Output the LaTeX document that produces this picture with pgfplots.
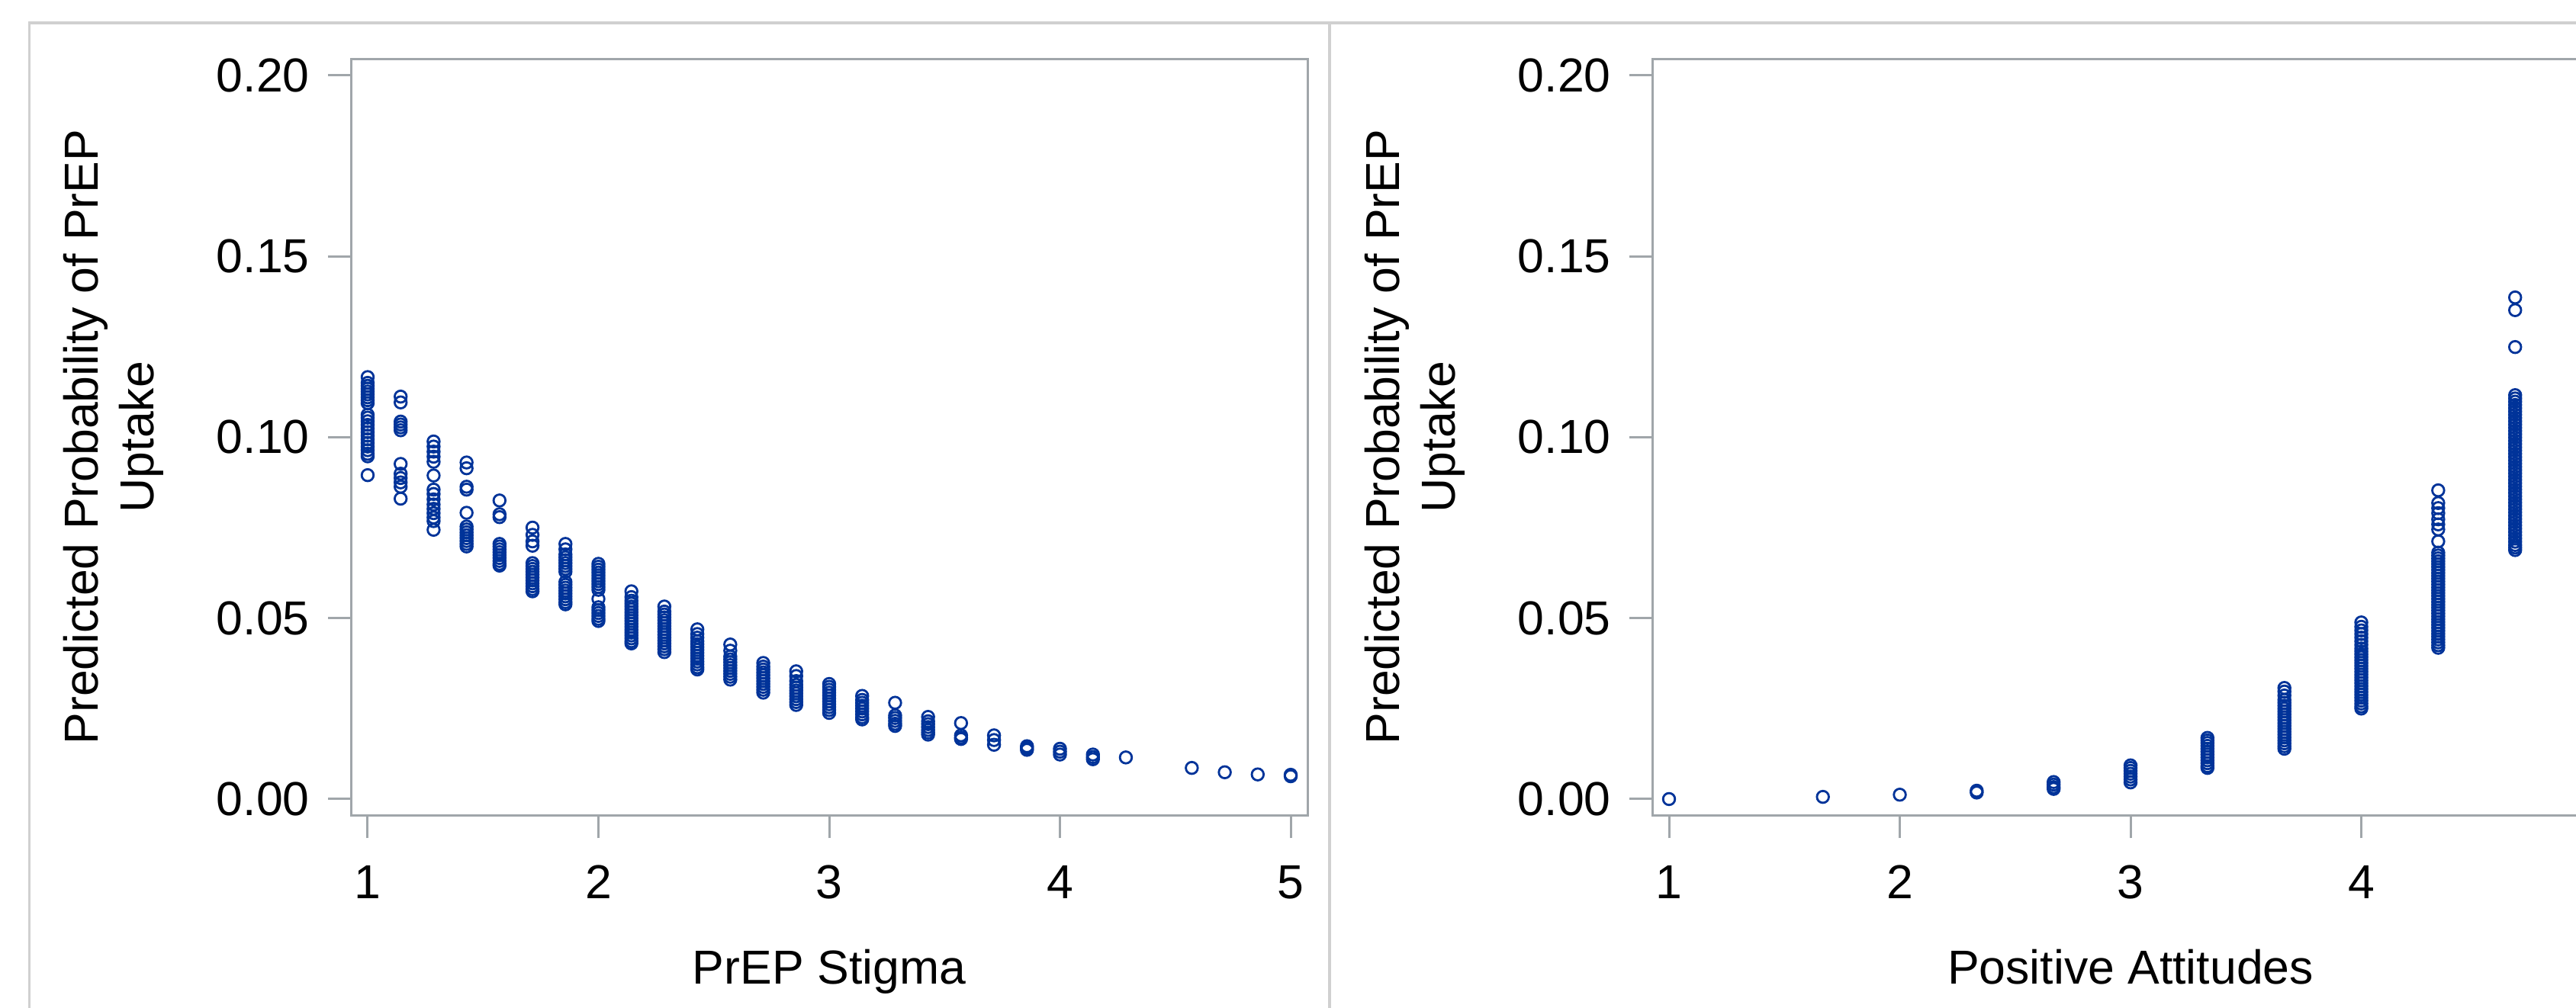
\documentclass[border=0pt]{standalone}
\usepackage{fontspec}
\setmainfont{Liberation Sans}
\usepackage{pgfplots}
\pgfplotsset{compat=1.18}
\definecolor{sasblue}{RGB}{0,51,153}
\definecolor{axgray}{RGB}{160,166,170}
\definecolor{frgray}{RGB}{208,208,208}

\pgfplotsset{
  panel/.style={
    scale only axis, width=62.7mm, height=49.615mm,
    xmin=0.9273, xmax=5.0727, ymin=-0.0045, ymax=0.20457,
    xtick={1,2,3,4,5}, xticklabels={1,2,3,4,5},
    ytick={0,0.05,0.1,0.15,0.2}, yticklabels={0.00,0.05,0.10,0.15,0.20},
    tick align=outside, major tick length=1.5mm,
    xtick pos=left, ytick pos=left,
    axis line style={draw=axgray, line width=0.15mm},
    tick style={draw=axgray, line width=0.15mm},
    tick label style={font={\fontsize{8.9}{10.4}\selectfont}, text=black, inner sep=0pt},
    xticklabel style={anchor=base, yshift=-3.935mm},
    yticklabel style={anchor=east, xshift=-1.15mm},
    every axis x label/.style={at={(axis description cs:0.5,0)}, anchor=base, yshift=-11.035mm,
      inner sep=0pt, font={\fontsize{8.9}{10.4}\selectfont}},
    every axis y label/.style={at={(axis description cs:-0.1946,0.5)}, rotate=90, anchor=south,
      inner sep=0pt, align=center, font={\fontsize{8.9}{10.4}\selectfont}},
    ylabel={Predicted Probability of PrEP\\Uptake},
  },
  pts/.style={only marks, mark=o, mark size=0.39mm, color=sasblue, mark options={line width=0.14mm}},
}

\begin{document}
\begin{tikzpicture}
\path[use as bounding box] (0,0) rectangle (168.85mm,66.05mm);
\clip (0,0) rectangle (168.85mm,66.05mm);
\fill[white] (0,0) rectangle (168.85mm,66.05mm);

% frames around the two graphs
\draw[frgray, line width=0.175mm] (1.93mm,-1mm) -- (1.93mm,64.55mm) -- (172mm,64.55mm);
\draw[frgray, line width=0.175mm] (87.15mm,-1mm) -- (87.15mm,64.55mm);

% PrEP stigma
\begin{axis}[panel, at={(23mm,12.585mm)}, anchor=south west, xlabel={PrEP Stigma}]
\addplot[pts] coordinates {
(1,0.1166)(1,0.1150)(1,0.1142)(1,0.1134)(1,0.1126)(1,0.1118)(1,0.1110)(1,0.1102)(1,0.1094)(1,0.1062)
(1,0.1054)(1,0.1044)(1,0.1034)(1,0.1024)(1,0.1014)(1,0.1004)(1,0.0994)(1,0.0984)(1,0.0974)(1,0.0964)(1,0.0954)(1,0.0947)(1,0.0895)
(1.1429,0.1112)(1.1429,0.1096)(1.1429,0.1043)(1.1429,0.1035)(1.1429,0.1027)(1.1429,0.1019)
(1.1429,0.0926)(1.1429,0.0899)(1.1429,0.0887)(1.1429,0.0875)(1.1429,0.0863)(1.1429,0.0830)
(1.2857,0.0988)(1.2857,0.0974)(1.2857,0.0960)(1.2857,0.0946)(1.2857,0.0932)(1.2857,0.0894)(1.2857,0.0855)
(1.2857,0.0843)(1.2857,0.0828)(1.2857,0.0814)(1.2857,0.0802)(1.2857,0.0790)(1.2857,0.0778)(1.2857,0.0768)(1.2857,0.0744)
(1.4286,0.0930)(1.4286,0.0914)(1.4286,0.0863)(1.4286,0.0855)(1.4286,0.0791)(1.4286,0.0753)(1.4286,0.0745)
(1.4286,0.0737)(1.4286,0.0729)(1.4286,0.0721)(1.4286,0.0713)(1.4286,0.0705)(1.4286,0.0698)
(1.5714,0.0825)(1.5714,0.0787)(1.5714,0.0779)(1.5714,0.0705)(1.5714,0.0698)(1.5714,0.0690)(1.5714,0.0682)
(1.5714,0.0674)(1.5714,0.0666)(1.5714,0.0658)(1.5714,0.0650)(1.5714,0.0645)
(1.7143,0.0750)(1.7143,0.0730)(1.7143,0.0712)(1.7143,0.0700)(1.7143,0.0652)(1.7143,0.0644)(1.7143,0.0636)(1.7143,0.0628)
(1.7143,0.0620)(1.7143,0.0612)(1.7143,0.0604)(1.7143,0.0596)(1.7143,0.0588)(1.7143,0.0580)(1.7143,0.0574)
(1.8571,0.0705)(1.8571,0.0690)(1.8571,0.0676)(1.8571,0.0668)(1.8571,0.0660)(1.8571,0.0652)(1.8571,0.0644)(1.8571,0.0636)(1.8571,0.0628)
(1.8571,0.0600)(1.8571,0.0592)(1.8571,0.0584)(1.8571,0.0576)(1.8571,0.0568)(1.8571,0.0560)(1.8571,0.0552)(1.8571,0.0544)(1.8571,0.0538)
(2,0.0650)(2,0.0642)(2,0.0634)(2,0.0626)(2,0.0618)(2,0.0610)(2,0.0602)(2,0.0594)(2,0.0586)(2,0.0578)
(2,0.0553)(2,0.0530)(2,0.0522)(2,0.0514)(2,0.0506)(2,0.0498)(2,0.0492)
(2.1429,0.0574)(2.1429,0.0558)(2.1429,0.0548)(2.1429,0.0540)(2.1429,0.0532)(2.1429,0.0524)(2.1429,0.0516)(2.1429,0.0508)(2.1429,0.0500)
(2.1429,0.0492)(2.1429,0.0484)(2.1429,0.0476)(2.1429,0.0468)(2.1429,0.0460)(2.1429,0.0452)(2.1429,0.0444)(2.1429,0.0436)(2.1429,0.0430)
(2.2857,0.0532)(2.2857,0.0518)(2.2857,0.0510)(2.2857,0.0502)(2.2857,0.0494)(2.2857,0.0486)(2.2857,0.0478)(2.2857,0.0470)
(2.2857,0.0462)(2.2857,0.0454)(2.2857,0.0446)(2.2857,0.0438)(2.2857,0.0430)(2.2857,0.0422)(2.2857,0.0414)(2.2857,0.0406)
(2.4286,0.0469)(2.4286,0.0456)(2.4286,0.0446)(2.4286,0.0436)(2.4286,0.0428)(2.4286,0.0420)(2.4286,0.0412)
(2.4286,0.0404)(2.4286,0.0396)(2.4286,0.0388)(2.4286,0.0380)(2.4286,0.0372)(2.4286,0.0364)(2.4286,0.0358)
(2.5714,0.0427)(2.5714,0.0410)(2.5714,0.0394)(2.5714,0.0386)(2.5714,0.0378)(2.5714,0.0370)(2.5714,0.0362)
(2.5714,0.0354)(2.5714,0.0346)(2.5714,0.0338)(2.5714,0.0330)
(2.7143,0.0376)(2.7143,0.0366)(2.7143,0.0358)(2.7143,0.0350)(2.7143,0.0342)(2.7143,0.0334)(2.7143,0.0326)
(2.7143,0.0318)(2.7143,0.0310)(2.7143,0.0302)(2.7143,0.0294)
(2.8571,0.0353)(2.8571,0.0340)(2.8571,0.0326)(2.8571,0.0316)(2.8571,0.0308)(2.8571,0.0300)(2.8571,0.0292)
(2.8571,0.0284)(2.8571,0.0276)(2.8571,0.0268)(2.8571,0.0260)
(3,0.0318)(3,0.0310)(3,0.0302)(3,0.0294)(3,0.0286)(3,0.0278)(3,0.0270)(3,0.0262)(3,0.0254)(3,0.0246)(3,0.0238)
(3.1429,0.0285)(3.1429,0.0274)(3.1429,0.0266)(3.1429,0.0258)(3.1429,0.0250)(3.1429,0.0242)(3.1429,0.0234)(3.1429,0.0226)(3.1429,0.0220)
(3.2857,0.0266)(3.2857,0.0231)(3.2857,0.0224)(3.2857,0.0216)(3.2857,0.0208)(3.2857,0.0202)
(3.4286,0.0227)(3.4286,0.0215)(3.4286,0.0207)(3.4286,0.0199)(3.4286,0.0191)(3.4286,0.0184)(3.4286,0.0178)
(3.5714,0.0210)(3.5714,0.0176)(3.5714,0.0170)(3.5714,0.0166)
(3.7143,0.0176)(3.7143,0.0163)(3.7143,0.0150)
(3.8571,0.0146)(3.8571,0.0141)(3.8571,0.0136)
(4,0.0139)(4,0.0131)(4,0.0123)
(4.1429,0.0123)(4.1429,0.0116)(4.1429,0.0110)
(4.2857,0.0115)
(4.5714,0.0086)
(4.7143,0.0074)
(4.8571,0.0068)
(5,0.0067)(5,0.0063)
};
\end{axis}

% positive attitudes (the reference is cut at the right edge, so the label 5 is not shown)
\begin{axis}[panel, at={(108.3mm,12.585mm)}, anchor=south west, xlabel={Positive Attitudes},
  xtick={1,2,3,4}, xticklabels={1,2,3,4}]
\addplot[pts] coordinates {
(1,0.0000)
(1.6667,0.0006)
(2,0.0012)
(2.3333,0.0023)(2.3333,0.0018)
(2.6667,0.0047)(2.6667,0.0040)(2.6667,0.0033)(2.6667,0.0028)
(3,0.0093)(3,0.0086)(3,0.0078)(3,0.0070)(3,0.0062)(3,0.0054)(3,0.0046)
(3.3333,0.0169)(3.3333,0.0162)(3.3333,0.0155)(3.3333,0.0147)(3.3333,0.0139)(3.3333,0.0131)
(3.3333,0.0123)(3.3333,0.0115)(3.3333,0.0107)(3.3333,0.0099)(3.3333,0.0091)(3.3333,0.0086)
(3.6667,0.0307)(3.6667,0.0297)(3.6667,0.0286)(3.6667,0.0274)(3.6667,0.0266)(3.6667,0.0258)(3.6667,0.0250)
(3.6667,0.0242)(3.6667,0.0234)(3.6667,0.0226)(3.6667,0.0218)(3.6667,0.0210)(3.6667,0.0202)(3.6667,0.0194)
(3.6667,0.0186)(3.6667,0.0178)(3.6667,0.0170)(3.6667,0.0162)(3.6667,0.0154)(3.6667,0.0146)(3.6667,0.0139)
(4,0.0488)(4,0.0476)(4,0.0466)(4,0.0456)(4,0.0446)(4,0.0436)(4,0.0426)(4,0.0416)(4,0.0408)(4,0.0400)
(4,0.0392)(4,0.0384)(4,0.0376)(4,0.0368)(4,0.0360)(4,0.0352)(4,0.0344)(4,0.0336)(4,0.0328)(4,0.0320)
(4,0.0312)(4,0.0304)(4,0.0296)(4,0.0288)(4,0.0280)(4,0.0272)(4,0.0264)(4,0.0256)(4,0.0250)
(4.3333,0.0853)(4.3333,0.0818)(4.3333,0.0804)(4.3333,0.0790)(4.3333,0.0773)(4.3333,0.0759)(4.3333,0.0745)(4.3333,0.0712)
(4.3333,0.0681)(4.3333,0.0673)(4.3333,0.0665)(4.3333,0.0657)(4.3333,0.0649)(4.3333,0.0641)(4.3333,0.0633)(4.3333,0.0625)
(4.3333,0.0617)(4.3333,0.0609)(4.3333,0.0601)(4.3333,0.0593)(4.3333,0.0585)(4.3333,0.0577)(4.3333,0.0569)(4.3333,0.0561)
(4.3333,0.0553)(4.3333,0.0545)(4.3333,0.0537)(4.3333,0.0529)(4.3333,0.0521)(4.3333,0.0513)(4.3333,0.0505)(4.3333,0.0497)
(4.3333,0.0489)(4.3333,0.0481)(4.3333,0.0473)(4.3333,0.0465)(4.3333,0.0457)(4.3333,0.0449)(4.3333,0.0441)(4.3333,0.0433)
(4.3333,0.0425)(4.3333,0.0418)
(4.6667,0.1386)(4.6667,0.1351)(4.6667,0.1249)
(4.6667,0.1116)(4.6667,0.1107)(4.6667,0.1098)(4.6667,0.1089)(4.6667,0.1080)(4.6667,0.1071)(4.6667,0.1062)(4.6667,0.1053)
(4.6667,0.1044)(4.6667,0.1035)(4.6667,0.1026)(4.6667,0.1017)(4.6667,0.1008)(4.6667,0.0999)(4.6667,0.0990)(4.6667,0.0981)
(4.6667,0.0972)(4.6667,0.0963)(4.6667,0.0954)(4.6667,0.0945)(4.6667,0.0936)(4.6667,0.0927)(4.6667,0.0918)(4.6667,0.0909)
(4.6667,0.0900)(4.6667,0.0891)(4.6667,0.0882)(4.6667,0.0873)(4.6667,0.0864)(4.6667,0.0855)(4.6667,0.0846)(4.6667,0.0837)
(4.6667,0.0828)(4.6667,0.0819)(4.6667,0.0810)(4.6667,0.0801)(4.6667,0.0792)(4.6667,0.0783)(4.6667,0.0774)(4.6667,0.0765)
(4.6667,0.0756)(4.6667,0.0747)(4.6667,0.0738)(4.6667,0.0729)(4.6667,0.0720)(4.6667,0.0711)(4.6667,0.0702)(4.6667,0.0695)(4.6667,0.0688)
};
\end{axis}
\end{tikzpicture}
\end{document}
